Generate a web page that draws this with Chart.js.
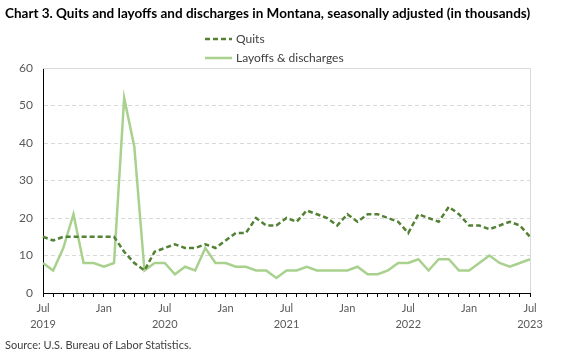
<!DOCTYPE html>
<html><head><meta charset="utf-8">
<script src="https://cdn.jsdelivr.net/npm/chart.js@4.4.1/dist/chart.umd.min.js"></script>
<style>
html,body{margin:0;padding:0;background:#fff;}
#wrap{position:relative;width:563px;height:356px;font-family:Lato,"Open Sans",sans-serif;color:#262626;}
#title{position:absolute;left:5px;top:5px;font-weight:bold;font-size:13.5px;white-space:nowrap;color:#000;}
#legend{position:absolute;left:205px;top:29px;font-size:12px;color:#404040;}
.li{display:flex;align-items:center;height:19px;}
.li svg{margin-right:4px;}
#src{position:absolute;left:5px;top:338px;font-size:11px;color:#404040;white-space:nowrap;}
canvas{position:absolute;left:0;top:0;}
</style></head>
<body><div id="wrap">
<canvas id="c" width="563" height="356"></canvas>
<div id="title">Chart 3. Quits and layoffs and discharges in Montana, seasonally adjusted (in thousands)</div>
<div id="legend">
<div class="li"><svg width="27" height="4"><line x1="0" y1="2" x2="27" y2="2" stroke="#548235" stroke-width="2.5" stroke-dasharray="5,3"/></svg>Quits</div>
<div class="li"><svg width="27" height="4"><line x1="0" y1="2" x2="27" y2="2" stroke="#A9D18E" stroke-width="2.5"/></svg>Layoffs &amp; discharges</div>
</div>
<div id="src">Source: U.S. Bureau of Labor Statistics.</div>
</div>
<script>
const months = ["Jul","Aug","Sep","Oct","Nov","Dec","Jan","Feb","Mar","Apr","May","Jun"];
const startYear = 2019;
const categories = [];
for (let i = 0; i < 49; i++) {
  const m = months[i % 12];
  const y = startYear + Math.floor((i + 6) / 12);
  categories.push(m + " " + y);
}
const quits = [15,14,15,15,15,15,15,15,11,8,6,11,12,13,12,12,13,12,14,16,16,20,18,18,20,19,22,21,20,18,21,19,21,21,20,19,16,21,20,19,23,21,18,18,17,18,19,18,15];
const layoffs = [8,6,12,21,8,8,7,8,52,39,6,8,8,5,7,6,12,8,8,7,7,6,6,4,6,6,7,6,6,6,6,7,5,5,6,8,8,9,6,9,9,6,6,8,10,8,7,8,9];
const yTicks = [0,10,20,30,40,50,60];

const frame = {
  id: 'frame',
  afterDatasetsDraw(chart) {
    const {ctx, chartArea: a} = chart;
    ctx.save();
    ctx.strokeStyle = '#d9d9d9';
    ctx.lineWidth = 1;
    ctx.beginPath();
    ctx.moveTo(a.left, a.top + 0.5);
    ctx.lineTo(a.right + 0.5, a.top + 0.5);
    ctx.lineTo(a.right + 0.5, a.bottom);
    ctx.stroke();
    ctx.restore();
  }
};

new Chart(document.getElementById('c'), {
  type: 'line',
  data: {
    labels: categories,
    datasets: [
      {label: 'Quits', data: quits, borderColor: '#548235', borderWidth: 2.5, borderDash: [5,3], pointRadius: 0, tension: 0, fill: false},
      {label: 'Layoffs & discharges', data: layoffs, borderColor: '#A9D18E', borderWidth: 2.5, pointRadius: 0, tension: 0, fill: false}
    ]
  },
  options: {
    responsive: false,
    animation: false,
    layout: {padding: {left: 0, right: 33, top: 68, bottom: 0}},
    plugins: {legend: {display: false}, title: {display: false}, tooltip: {enabled: false}},
    scales: {
      x: {
        type: 'category',
        offset: false,
        afterFit(s) { s.height = 63; },
        grid: {display: true, drawOnChartArea: false, drawTicks: true, tickLength: 4, color: '#000', lineWidth: 1},
        border: {display: true, color: '#000', width: 1},
        ticks: {
          autoSkip: false, maxRotation: 0, minRotation: 0, padding: 4,
          color: '#595959', font: {family: 'Lato', size: 11, lineHeight: 1.4},
          callback(v, i) {
            const lab = categories[i];
            const [m, y] = lab.split(' ');
            if (m === 'Jul') return [m, y];
            if (m === 'Jan') return m;
            return '';
          }
        }
      },
      y: {
        min: 0, max: 60,
        afterFit(s) { s.width = 43; },
        afterBuildTicks(s) { s.ticks = yTicks.map(v => ({value: v})); },
        grid: {color: (c) => (c.tick && c.tick.value === 60) ? 'rgba(0,0,0,0)' : '#d9d9d9', drawTicks: false, lineWidth: 1},
        border: {display: true, color: '#000', width: 1, dash: [4,3]},
        ticks: {padding: 10, color: '#595959', font: {family: 'Lato', size: 12}}
      }
    }
  },
  plugins: [frame]
});
</script>
</body></html>
